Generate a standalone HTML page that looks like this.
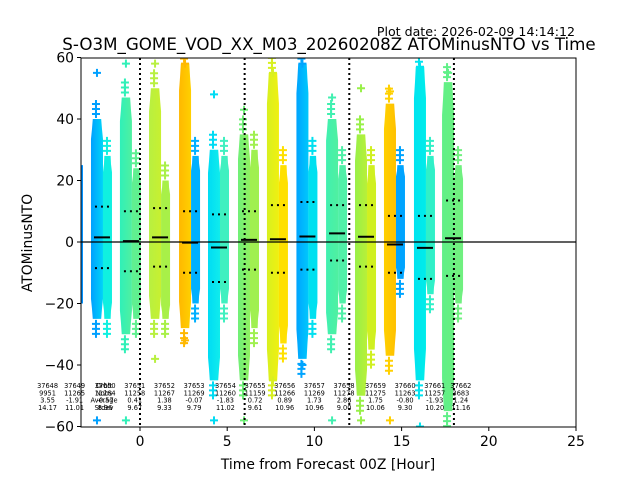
<!DOCTYPE html>
<html><head><meta charset="utf-8"><style>
body{margin:0;background:#fff;}
svg{display:block;font-family:"DejaVu Sans","Liberation Sans",sans-serif;}
</style></head><body>
<svg id="chart" width="640" height="480" viewBox="0 0 640 480">
<rect width="640" height="480" fill="#fff"/>
<g id="blobs"></g>
<g id="overlay"></g>
<rect x="81" y="58" width="495" height="369" fill="none" stroke="#000" stroke-width="1"/>
<g id="axes"></g>
<text x="575" y="36" font-size="12.6" text-anchor="end">Plot date: 2026-02-09 14:14:12</text>
<text x="329" y="50" font-size="16.7" text-anchor="middle">S-O3M_GOME_VOD_XX_M03_20260208Z ATOMinusNTO vs Time</text>
<text x="328" y="469" font-size="13.9" text-anchor="middle">Time from Forecast 00Z [Hour]</text>
<text x="32" y="243" font-size="13.9" text-anchor="middle" transform="rotate(-90 32 243)">ATOMinusNTO</text>
</svg>
<script>
const xTicks=[0,5,10,15,20,25];
const yTicks=[-60,-40,-20,0,20,40,60];
const vLines=[0,6,12,18];
const centers=[-2.18,-0.52,1.15,2.87,4.53,6.25,7.91,9.6,11.3,12.96,14.62,16.34,17.95];
const means=[1.5,0.3,1.5,-0.2,-1.8,0.7,0.9,1.8,2.8,1.7,-0.8,-1.9,1.2];
const upper=[11.5,10,11,10,9,10,12,13,12,12,8.5,8.5,13.5];
const lower=[-8.5,-9.5,-8,-10,-13,-9,-10,-9,-6,-8,-10,-12,-11];
const topL=[40,47,50,58,30,35,55,58,40,35,45,57,52];
const botL=[-25,-30,-25,-28,-45,-45,-45,-38,-30,-50,-37,-45,-55];
const topR=[28,24,20,28,28,30,25,28,25,25,25,28,25];
const botR=[-25,-25,-25,-20,-20,-28,-33,-25,-20,-35,-12,-17,-20];
const colL1=["#00a0ff","#30f0b8","#b8f040","#ffb800","#00dcf4","#70f078","#d8f020","#00a4ff","#40f0b0","#98f048","#ffd000","#00e4f0","#60f088"];
const colL2=["#00d4f8","#50f0a0","#c8f030","#ffd000","#10ecec","#90f060","#f0f010","#00c8fc","#50f0a0","#b8f038","#ffc000","#00ecea","#68f080"];
const colR=["#10f0e0","#60f090","#a8f048","#00b0ff","#40f0c0","#a0f050","#ffe000","#00e0f0","#50f0a8","#d0f020","#00a4ff","#30f0c8","#70f080"];
const outHi=[55,58,58,58,48,43,55,58,47,50,49,57,55];
const outLo=[-58,-58,-38,-32,-58,-58,-45,-40,-58,-58,-58,-60,-53];
const annX=[-5.3,-3.75,-2.0,-0.3,1.4,3.1,4.9,6.6,8.3,10.0,11.7,13.5,15.2,16.9,18.4];
const annOrbit=["37648","37649","37650","37651","37652","37653","37654","37655","37656","37657","37658","37659","37660","37661","37662"];
const annNobs=["9951","11265","11264","11258","11267","11269","11260","11159","11266","11269","11278","11275","11263","11257","3683"];
const annAvg=["3.55","-1.91","-0.57","0.41","1.38","-0.07","-1.83","0.72","0.89","1.73","2.86","1.75","-0.80","-1.93","1.24"];
const annStd=["14.17","11.01","8.96","9.67","9.33","9.79","11.02","9.61","10.96","10.96","9.00","10.06","9.30","10.20","11.16"];
const rowLabels=["Orbit","Nobs","Average","Stdev"];

const NS="http://www.w3.org/2000/svg";
const X=v=>140+v*17.44;
const Y=v=>242-v*3.075;
function mk(tag,attrs,parent){const e=document.createElementNS(NS,tag);for(const k in attrs)e.setAttribute(k,attrs[k]);parent.appendChild(e);return e;}
const svg=document.getElementById('chart');
const defs=mk('defs',{},svg);
const blobs=document.getElementById('blobs');
const ov=document.getElementById('overlay');
const axes=document.getElementById('axes');
const clip=mk('clipPath',{id:'pc'},defs);
mk('rect',{x:81,y:58,width:495,height:369},clip);
blobs.setAttribute('clip-path','url(#pc)');

let lp=mk('rect',{x:81,y:Y(25),width:2,height:Y(-20)-Y(25),fill:'#0090ff'},blobs);



function plus(cx,cy,color,i){
  const p=mk('path',{d:`M${cx-4},${cy}h8M${cx},${cy-4}v8`,stroke:color,'stroke-width':2},blobs);
  
  
}
function taper(x0,x1,top,bot,fill,name){
  const h=bot-top, w=x1-x0, m=(x0+x1)/2;
  const n=w*0.35;
  const pts=[[m-n,top],[m+n,top],[x1-1,top+h*0.05],[x1,top+h*0.1],[x1,bot-h*0.1],[x1-1,bot-h*0.05],[m+n,bot],[m-n,bot],[x0+1,bot-h*0.05],[x0,bot-h*0.1],[x0,top+h*0.1],[x0+1,top+h*0.05]];
  const p=mk('polygon',{points:pts.map(q=>q.join(',')).join(' '),fill:fill},blobs);
  
  
}
centers.forEach((c,i)=>{
  const px=X(c);
  const g=mk('linearGradient',{id:'g'+i,x1:0,x2:1,y1:0,y2:0},defs);
  mk('stop',{offset:0,'stop-color':colL1[i]},g);
  mk('stop',{offset:1,'stop-color':colL2[i]},g);
  taper(px-11,px+1,Y(topL[i]),Y(botL[i]),`url(#g${i})`,'blob-left-'+i);
  taper(px+1,px+10,Y(topR[i]),Y(botR[i]),colR[i],'blob-right-'+i);
  const tl=Y(topL[i]), bl=Y(botL[i]);
  for(let k=1;k<=3;k++){
    plus(px-6,tl-k*5,colL1[i],i);
    plus(px-6,bl+k*5,colL1[i],i);
    plus(px+5,Y(topR[i])-k*5,colR[i],i);
    plus(px+5,Y(botR[i])+k*5,colR[i],i);
  }
  plus(px-5,Y(outHi[i]),colL1[i],i);
  plus(px-5,Y(outLo[i]),colL1[i],i);
  const m=mk('line',{x1:px-8,x2:px+8,y1:Y(means[i]),y2:Y(means[i]),stroke:'#000','stroke-width':2},ov);
  
  
  [upper[i],lower[i]].forEach(v=>{
    const d=mk('line',{x1:px-8,x2:px+8,y1:Y(v),y2:Y(v),stroke:'#000','stroke-width':2,'stroke-dasharray':'2 4','stroke-dashoffset':-1},ov);
    
    
  });
});
const zl=mk('line',{x1:81,x2:576,y1:Y(0),y2:Y(0),stroke:'#000','stroke-width':1.2},ov);


vLines.forEach(v=>{
  const l=mk('line',{x1:X(v),x2:X(v),y1:58,y2:427,stroke:'#000','stroke-width':2,'stroke-dasharray':'2 3'},ov);
  
  
});
annOrbit.forEach((o,i)=>{
  const vals=[o,annNobs[i],annAvg[i],annStd[i]];
  vals.forEach((t,r)=>{
    const tx=mk('text',{x:X(annX[i]),y:388+r*7.3,'font-size':6.6,'text-anchor':'middle'},ov);
    tx.textContent=t;
    
    
  });
});
rowLabels.forEach((t,r)=>{
  const tx=mk('text',{x:104,y:388+r*7.3,'font-size':6.6,'text-anchor':'middle'},ov);
  tx.textContent=t;
  
  
});
xTicks.forEach(v=>{
  const l=mk('line',{x1:X(v),x2:X(v),y1:427,y2:431,stroke:'#000'},axes);
  
  
  const t=mk('text',{x:X(v),y:446,'font-size':13.9,'text-anchor':'middle'},axes);
  t.textContent=v;
  
  
});
yTicks.forEach(v=>{
  const l=mk('line',{x1:77,x2:81,y1:Y(v),y2:Y(v),stroke:'#000'},axes);
  
  
  const t=mk('text',{x:74,y:Y(v)+5,'font-size':13.9,'text-anchor':'end'},axes);
  t.textContent=v===0?'0':(v<0?'\u2212'+(-v):v);
  
  
});
</script>
</body></html>
